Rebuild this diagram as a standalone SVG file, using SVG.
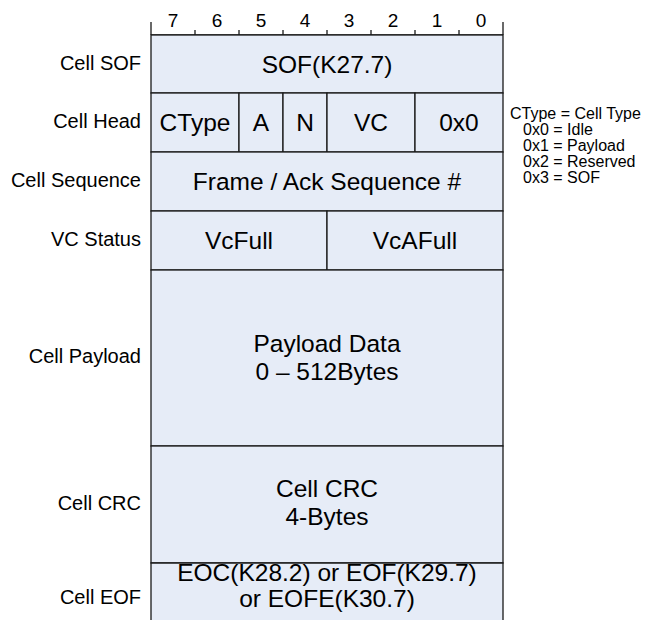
<svg xmlns="http://www.w3.org/2000/svg" width="648" height="620" viewBox="0 0 648 620">
<style>
.cell{fill:#E6ECF7;stroke:#1a1a1a;stroke-width:1.3}
.ln{stroke:#1a1a1a;stroke-width:1.3;fill:none}
.t{font-family:"Liberation Sans",Arial,sans-serif;fill:#000;text-anchor:middle;font-size:24.5px}
.lb{font-family:"Liberation Sans",Arial,sans-serif;fill:#000;text-anchor:end;font-size:20px}
.bit{font-family:"Liberation Sans",Arial,sans-serif;fill:#000;text-anchor:middle;font-size:19px}
.lg{font-family:"Liberation Sans",Arial,sans-serif;fill:#000;font-size:16px}
</style>
<rect width="648" height="620" fill="#fff"/>
<g id="bit-ruler">
<path class="ln" d="M151,22V35M195,30V35M239,30V35M283,30V35M327,30V35M371,30V35M415,30V35M459,30V35M503,22V35M151,35H503"/>
<text class="bit" x="173" y="27">7</text>
<text class="bit" x="217" y="27">6</text>
<text class="bit" x="261" y="27">5</text>
<text class="bit" x="305" y="27">4</text>
<text class="bit" x="349" y="27">3</text>
<text class="bit" x="393" y="27">2</text>
<text class="bit" x="437" y="27">1</text>
<text class="bit" x="481" y="27">0</text>
</g>
<g id="cell-sof">
<rect class="cell" x="151" y="35" width="352" height="58"/>
<text class="t" x="327" y="73">SOF(K27.7)</text>
<text class="lb" x="141" y="70">Cell SOF</text>
</g>
<g id="cell-head">
<rect class="cell" x="151" y="93" width="88" height="59"/>
<rect class="cell" x="239" y="93" width="44" height="59"/>
<rect class="cell" x="283" y="93" width="44" height="59"/>
<rect class="cell" x="327" y="93" width="88" height="59"/>
<rect class="cell" x="415" y="93" width="88" height="59"/>
<text class="t" x="195" y="131">CType</text>
<text class="t" x="261" y="131">A</text>
<text class="t" x="305" y="131">N</text>
<text class="t" x="371" y="131">VC</text>
<text class="t" x="459" y="131">0x0</text>
<text class="lb" x="141" y="128">Cell Head</text>
</g>
<g id="cell-sequence">
<rect class="cell" x="151" y="152" width="352" height="59"/>
<text class="t" x="327" y="190">Frame / Ack Sequence #</text>
<text class="lb" x="141" y="187">Cell Sequence</text>
</g>
<g id="vc-status">
<rect class="cell" x="151" y="211" width="176" height="59"/>
<rect class="cell" x="327" y="211" width="176" height="59"/>
<text class="t" x="239" y="249">VcFull</text>
<text class="t" x="415" y="249">VcAFull</text>
<text class="lb" x="141" y="246">VC Status</text>
</g>
<g id="cell-payload">
<rect class="cell" x="151" y="270" width="352" height="176"/>
<text class="t" x="327" y="352">Payload Data</text>
<text class="t" x="327" y="380">0 – 512Bytes</text>
<text class="lb" x="141" y="363">Cell Payload</text>
</g>
<g id="cell-crc">
<rect class="cell" x="151" y="446" width="352" height="117"/>
<text class="t" x="327" y="497">Cell CRC</text>
<text class="t" x="327" y="525">4-Bytes</text>
<text class="lb" x="141" y="510">Cell CRC</text>
</g>
<g id="cell-eof">
<path class="cell" d="M151,625V563H503V625"/>
<text class="t" x="327" y="581">EOC(K28.2) or EOF(K29.7)</text>
<text class="t" x="327" y="607">or EOFE(K30.7)</text>
<text class="lb" x="141" y="604">Cell EOF</text>
</g>
<g id="legend">
<text class="lg" x="510" y="119">CType = Cell Type</text>
<text class="lg" x="523" y="135">0x0 = Idle</text>
<text class="lg" x="523" y="151">0x1 = Payload</text>
<text class="lg" x="523" y="167">0x2 = Reserved</text>
<text class="lg" x="523" y="183">0x3 = SOF</text>
</g>
<g id="connectors"></g>
</svg>
